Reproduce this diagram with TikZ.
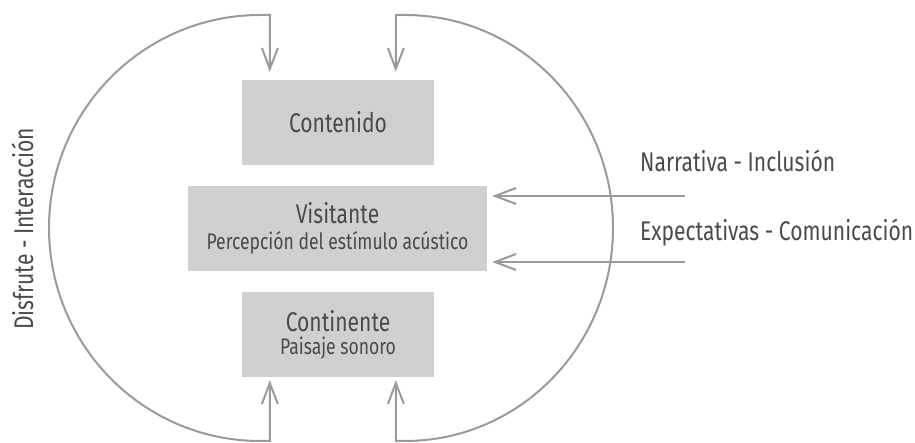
\documentclass[tikz,border=0pt]{standalone}
\usepackage{fontspec}
\setmainfont{Fira Sans}[FakeStretch=0.78]
\usetikzlibrary{arrows.meta,calc}
\definecolor{boxgray}{HTML}{CFD0D0}
\definecolor{linegray}{HTML}{9A9A9A}
\definecolor{textgray}{HTML}{4A4A4C}
\tikzset{
  box/.style={fill=boxgray, draw=none, inner sep=0pt, align=center, text=textgray,
    font=\fontsize{27}{26}\selectfont},
  conn/.style={draw=linegray, line width=2pt},
  barb/.style={-{Straight Barb[length=21pt,width=16pt]}},
  dbarb/.style={{Straight Barb[length=21pt,width=16pt]}-{Straight Barb[length=21pt,width=16pt]}},
  lbl/.style={text=textgray, inner sep=0pt, font=\fontsize{27}{26}\selectfont},
}
\newcommand{\smalltxt}{\fontsize{22.5}{20}\selectfont}
\begin{document}
\begin{tikzpicture}[x=1pt,y=1pt]
\useasboundingbox (0,0) rectangle (915,443);
% boxes
\node[box, minimum width=192pt, minimum height=85pt] (contenido) at (338,320.5) {Contenido};
\node[box, minimum width=299pt, minimum height=85pt] (visitante) at (337.5,214.5) {Visitante\\{\smalltxt Percepción del estímulo acústico}};
\node[box, minimum width=192pt, minimum height=85pt] (continente) at (338,108.5) {Continente\\[-3pt]{\smalltxt Paisaje sonoro}};
% loops
\draw[conn, dbarb] ($(contenido.north west)+(28,8)$) -- (270,428) -- (260,428)
  arc[start angle=90, end angle=270, x radius=211pt, y radius=213pt] -- (270,2)
  -- ($(continente.south west)+(28,-3)$);
\draw[conn, dbarb] ($(contenido.north west)+(154,8)$) -- (396,428) -- (405,428)
  arc[start angle=90, end angle=-90, x radius=208pt, y radius=213pt] -- (396,2)
  -- ($(continente.south west)+(154,-3)$);
% right arrows
\coordinate (n1) at (685,247);
\coordinate (n2) at (685,181);
\draw[conn, barb] (n1) -- ([xshift=5pt,yshift=32.5pt]visitante.east);
\draw[conn, barb] (n2) -- ([xshift=5pt,yshift=-33.5pt]visitante.east);
% labels
\node[lbl, anchor=base west] (narr) at (640,271) {Narrativa - Inclusión};
\node[lbl, anchor=base west] (expe) at (640,202) {Expectativas - Comunicación};
\node[lbl, anchor=base, rotate=90] (disf) at (33,214) {Disfrute - Interacción};
\end{tikzpicture}
\end{document}
